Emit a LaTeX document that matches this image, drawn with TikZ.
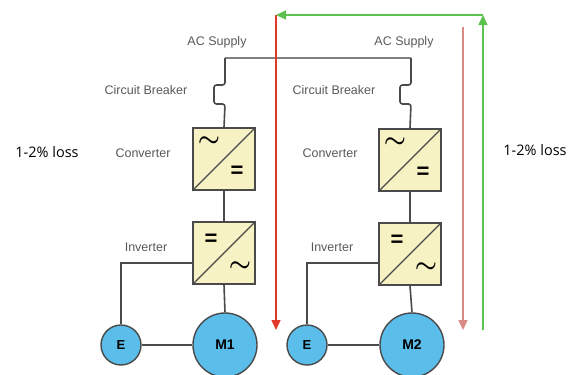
\documentclass[tikz,border=0pt]{standalone}
\usepackage{amsmath}
\usepackage{fontspec}
\setmainfont{Liberation Sans}
\newfontfamily\lossfont{Open Sans}
\usetikzlibrary{arrows.meta,positioning}

\definecolor{boxfill}{HTML}{F7F2C4}
\definecolor{motorblue}{HTML}{5BBDEA}
\definecolor{wiregray}{HTML}{4A4A4A}
\definecolor{lossred}{HTML}{E2382A}
\definecolor{palered}{HTML}{D98C86}
\definecolor{lossgreen}{HTML}{5CC24E}

\tikzset{
  wire/.style={draw=wiregray, line width=1.6pt},
  unitbox/.style={draw=wiregray, fill=boxfill, line width=1.6pt, minimum size=62pt, inner sep=0pt},
  motor/.style={circle, draw=wiregray, fill=motorblue, line width=1.4pt, minimum size=64pt, inner sep=0pt, font=\bfseries\fontsize{14}{14}\selectfont},
  enc/.style={circle, draw=wiregray, fill=motorblue, line width=1.4pt, minimum size=40pt, inner sep=0pt, font=\bfseries\fontsize{13}{13}\selectfont},
  lbl/.style={text=black!65, font=\fontsize{12.5}{12.5}\selectfont, inner sep=0pt},
  sym/.style={font=\bfseries\fontsize{22}{22}\selectfont, inner sep=0pt},
  tld/.style={font=\fontsize{26}{26}\selectfont, inner sep=0pt},
  loss/.style={font=\lossfont\fontsize{14.5}{14.5}\selectfont, inner sep=0pt},
  flow/.style={line width=1.5pt, -{Triangle[width=9pt,length=10pt]}}
}

\begin{document}
\begin{tikzpicture}[x=1pt, y=-1pt]
  \useasboundingbox (0,0) rectangle (574,375);

  % drive 1
  \node[unitbox] (conv1) at (224,159) {};
  \node[unitbox] (inv1)  at (224,253) {};
  \node[motor]   (m1)    at (225,345) {M1};
  \node[enc]     (e1)    at (121,345) {E};
  % drive 2
  \node[unitbox] (conv2) at (410,160) {};
  \node[unitbox] (inv2)  at (410,254) {};
  \node[motor]   (m2)    at (412,345) {M2};
  \node[enc]     (e2)    at (307,345) {E};

  % supply points and breakers
  \coordinate (ac1) at (225,58);
  \coordinate (ac2) at (411,58);

  \draw[draw=black!50, line width=1.6pt] (ac1) -- (ac2);
  \draw[wire, rounded corners=2.5pt] (ac1) -- (225,85) -- (214,85) -- (214,104) -- (225,104) -- (conv1.north);
  \draw[wire, rounded corners=2.5pt] (ac2) -- (411,85) -- (400,85) -- (400,104) -- (411,104) -- (conv2.north);

  \foreach \n in {1,2} {
    \draw[wire] (conv\n.south) -- (inv\n.north);
    \draw[wire] (inv\n.south) -- (m\n.north);
    \draw[wire] (e\n.east) -- (m\n.west);
    \draw[wire] (inv\n.west |- 0,263) -| (e\n.north);
    \draw[wire, line width=1.1pt] (conv\n.south west) -- (conv\n.north east);
    \draw[wire, line width=1.1pt] (inv\n.south west) -- (inv\n.north east);
    \node[tld] at ([shift={(-15,-17)}]conv\n.center) {$\boldsymbol{\sim}$};
    \node[sym] at ([shift={(13,13)}]conv\n.center) {=};
    \node[sym] at ([shift={(-13,-13)}]inv\n.center) {=};
    \node[tld] at ([shift={(16,14)}]inv\n.center) {$\boldsymbol{\sim}$};
  }

  % labels
  \node[lbl] (sup1) at (217,42) {AC Supply};
  \node[lbl] (sup2) at (404,42) {AC Supply};
  \node[lbl] (cb1)  at (146,90) {Circuit Breaker};
  \node[lbl] (cb2)  at (334,90) {Circuit Breaker};
  \node[lbl] (cv1)  at (143,153) {Converter};
  \node[lbl] (cv2)  at (330,153) {Converter};
  \node[lbl] (iv1)  at (146,247) {Inverter};
  \node[lbl] (iv2)  at (332,247) {Inverter};

  % losses
  \node[loss] (loss1) at (47,152) {1-2\% loss};
  \node[loss] (loss2) at (535,150) {1-2\% loss};

  \coordinate (rtop1) at (276,15);
  \coordinate (rbot1) at (276,330);
  \coordinate (rtop2) at (463,27);
  \coordinate (rbot2) at (463,330);
  \coordinate (gbot)  at (483,330);
  \coordinate (gtop)  at (483,15);
  \coordinate (gend)  at (276,15);

  \draw[flow, lossred] (rtop1) -- (rbot1);
  \draw[flow, palered] (rtop2) -- (rbot2);
  \draw[flow, lossgreen] (gbot) -- (gtop);
  \draw[flow, lossgreen] (gtop) -- (gend);
\end{tikzpicture}
\end{document}
